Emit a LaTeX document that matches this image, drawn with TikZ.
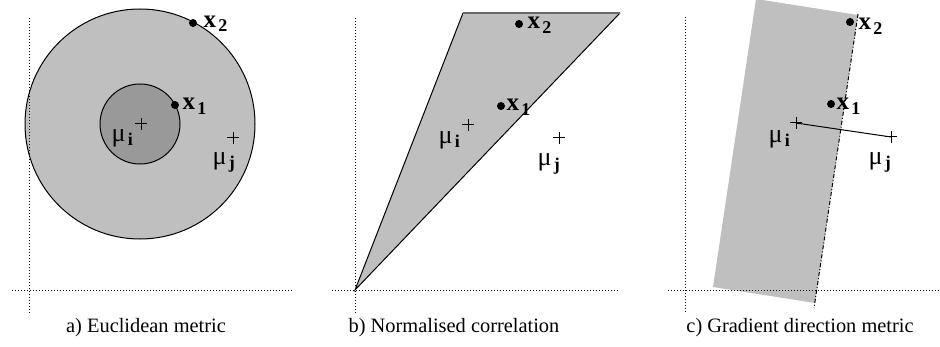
\documentclass[tikz,border=0pt]{standalone}
\usepackage{fontspec}
\setmainfont{Liberation Serif}
\definecolor{lightshade}{gray}{0.75}
\definecolor{darkshade}{gray}{0.6}
\definecolor{rimgray}{gray}{0.4}
\newcommand\lowidx[1]{\kern1.2pt\raisebox{-2.2pt}{\fontsize{9}{9}\selectfont\bfseries #1}}
\newcommand\plusat[1]{\draw (#1) +(-6,0) -- +(6,0) +(0,-6) -- +(0,6);}
\begin{document}
\begin{tikzpicture}[x=0.5pt,y=-0.5pt,line width=0.5pt,
    dot/.style={circle,fill=black,inner sep=0pt,minimum size=4pt},
    xtag/.style={anchor=base west,inner sep=0pt,font=\fontsize{12.5}{12}\selectfont\bfseries},
    mutag/.style={anchor=base west,inner sep=0pt,font=\fontsize{13}{12}\selectfont},
    axisline/.style={dash pattern=on 0.5pt off 1pt,line width=0.5pt},
    captiontext/.style={anchor=base,inner sep=0pt,font=\fontsize{10.2}{12}\selectfont}]
    \useasboundingbox (0,0) rectangle (940,347);

    % a) Euclidean metric
    \filldraw[fill=lightshade] (140,124) circle (115);
    \filldraw[fill=darkshade] (140,124) circle (40);
    \draw[axisline] (29,18) -- (29,313);
    \draw[axisline] (12,290) -- (293,290);
    \coordinate (ami) at (141,124);
    \coordinate (amj) at (233,138);
    \plusat{ami}
    \plusat{amj}
    \node[dot] (ax1) at (175,105) {};
    \node[dot] (ax2) at (193,23) {};
    \node[xtag] (ax1l) at (182,110) {x\lowidx{1}};
    \node[xtag] (ax2l) at (203,27.5) {x\lowidx{2}};
    \node[mutag] (amil) at (111,141) {μ\lowidx{i}};
    \node[mutag] (amjl) at (212,164) {μ\lowidx{j}};
    \node[captiontext] (acap) at (146,332) {a) Euclidean metric};

    % b) Normalised correlation
    \coordinate (borig) at (355,290);
    \fill[lightshade] (borig) -- (463,13) -- (620,13) -- cycle;
    \draw (463,13) -- (borig) -- (620,13);
    \draw[rimgray,line width=0.8pt] (463,13) -- (620,13);
    \draw[axisline] (355,18) -- (355,313);
    \draw[axisline] (332,290) -- (620,290);
    \coordinate (bmi) at (468,125);
    \coordinate (bmj) at (559,138);
    \plusat{bmi}
    \plusat{bmj}
    \node[dot] (bx1) at (501,106) {};
    \node[dot] (bx2) at (519,24) {};
    \node[xtag] (bx1l) at (506,111) {x\lowidx{1}};
    \node[xtag] (bx2l) at (527,29) {x\lowidx{2}};
    \node[mutag] (bmil) at (438,143.5) {μ\lowidx{i}};
    \node[mutag] (bmjl) at (537,166) {μ\lowidx{j}};
    \node[captiontext] (bcap) at (454,332) {b) Normalised correlation};

    % c) Gradient direction metric
    \fill[lightshade] (756,-1) -- (858,15) -- (815,303) -- (713,287) -- cycle;
    \draw[dash pattern=on 2pt off 1pt on 0.5pt off 1pt] (858,14) -- (814,308);
    \draw[axisline] (685,17) -- (685,312);
    \draw[axisline] (668,290) -- (940,290);
    \coordinate (cmi) at (796,123);
    \coordinate (cmj) at (891,137);
    \plusat{cmi}
    \plusat{cmj}
    \draw (cmi) -- (cmj);
    \node[dot] (cx1) at (831,104) {};
    \node[dot] (cx2) at (850,22) {};
    \node[xtag] (cx1l) at (836,110) {x\lowidx{1}};
    \node[xtag] (cx2l) at (858,30) {x\lowidx{2}};
    \node[mutag] (cmil) at (768,142.5) {μ\lowidx{i}};
    \node[mutag] (cmjl) at (868,164) {μ\lowidx{j}};
    \node[captiontext] (ccap) at (800,332) {c) Gradient direction metric};
\end{tikzpicture}
\end{document}
